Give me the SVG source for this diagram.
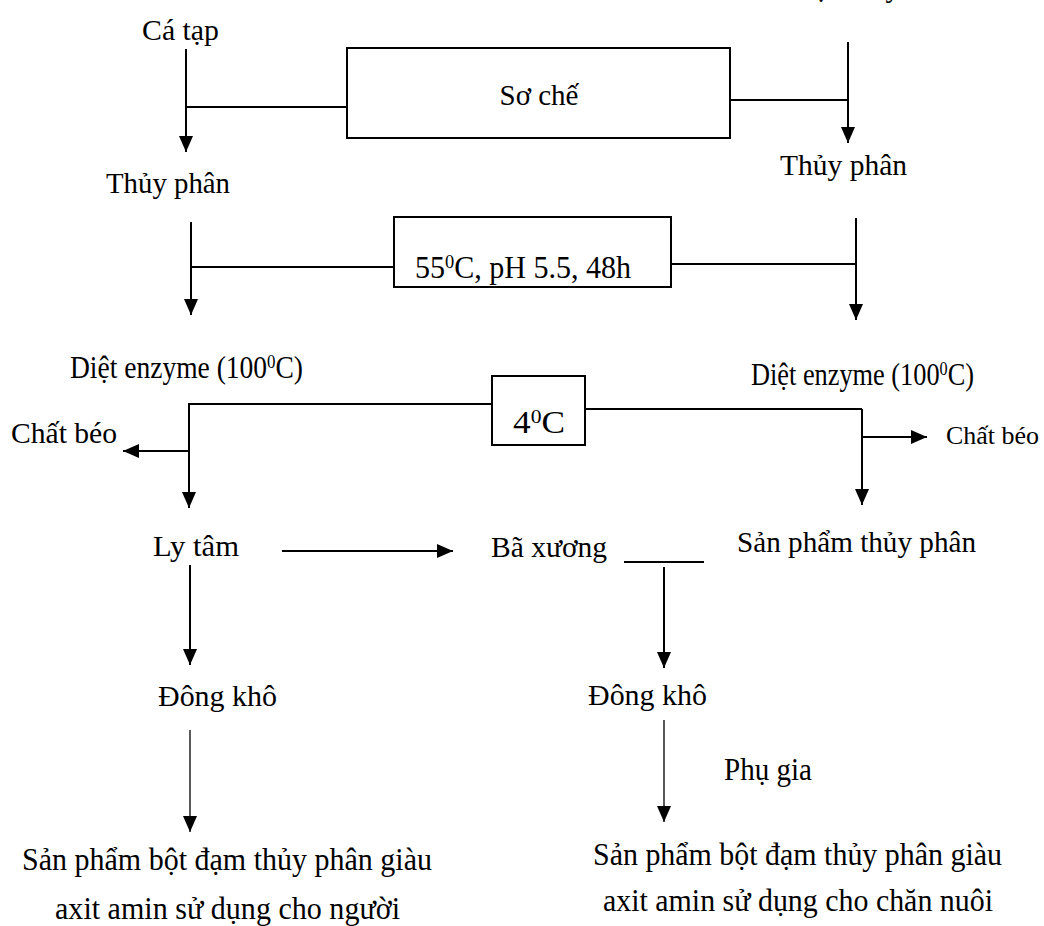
<svg xmlns="http://www.w3.org/2000/svg" width="1044" height="926" viewBox="0 0 1044 926" font-family="'Liberation Serif', 'Times New Roman', 'DejaVu Serif', serif">
<style>
text{font-family:'Liberation Serif','Times New Roman','DejaVu Serif',serif;font-size:29px;fill:#000}
.lo{font-size:31px}
.sm{font-size:25px}
.sup{font-size:19px}
.box{fill:#fff;stroke:#000;stroke-width:2}
.ln{fill:none;stroke:#000;stroke-width:2}
.thin{fill:none;stroke:#000;stroke-width:1.3}
</style>
<defs>
<marker id="ah" markerUnits="userSpaceOnUse" markerWidth="16" markerHeight="14" refX="16" refY="7" orient="auto" viewBox="0 0 16 14">
<path d="M0,0 L16,7 L0,14 z" fill="#000"/>
</marker>
</defs>
<g id="connectors">
<path class="ln" d="M186,49 V152" marker-end="url(#ah)"/>
<path class="ln" d="M186,107 H347"/>
<path class="ln" d="M848,42 V143" marker-end="url(#ah)"/>
<path class="ln" d="M730,100 H848"/>
<path class="ln" d="M191,222 V315" marker-end="url(#ah)"/>
<path class="ln" d="M191,267 H394"/>
<path class="ln" d="M856,218 V320" marker-end="url(#ah)"/>
<path class="ln" d="M671,264 H856"/>
<path class="ln" d="M188,404 H492"/>
<path class="ln" d="M189,404 V508" marker-end="url(#ah)"/>
<path class="ln" d="M189,451 H123" marker-end="url(#ah)"/>
<path class="ln" d="M585,409 H862"/>
<path class="ln" d="M862,409 V505" marker-end="url(#ah)"/>
<path class="ln" d="M862,437 H927" marker-end="url(#ah)"/>
<path class="ln" d="M282,551 H453" marker-end="url(#ah)"/>
<path class="ln" d="M624,562 H704"/>
<path class="ln" d="M664,567 V668" marker-end="url(#ah)"/>
<path class="ln" d="M190,565 V665" marker-end="url(#ah)"/>
<path class="thin" d="M190,730 V832" marker-end="url(#ah)"/>
<path class="thin" d="M664,720 V822" marker-end="url(#ah)"/>
</g>
<g id="n-top-right"><text x="747" y="-3" textLength="199" lengthAdjust="spacingAndGlyphs">Phế liệu thủy sản</text></g>
<g id="n-ca-tap"><text x="142" y="40" textLength="77" lengthAdjust="spacingAndGlyphs">Cá tạp</text></g>
<g id="n-so-che"><rect class="box" x="347" y="48" width="383" height="90"/><text x="539" y="105" text-anchor="middle" font-size="30">Sơ chế</text></g>
<g id="n-thuy-phan-l"><text x="106" y="193" textLength="124" lengthAdjust="spacingAndGlyphs">Thủy phân</text></g>
<g id="n-thuy-phan-r"><text x="780" y="175" textLength="127" lengthAdjust="spacingAndGlyphs">Thủy phân</text></g>
<g id="n-cond1"><rect class="box" x="394" y="217" width="277" height="70"/><text class="lo" x="415" y="278" textLength="216" lengthAdjust="spacingAndGlyphs">55<tspan class="sup" baseline-shift="55%">0</tspan>C, pH 5.5, 48h</text></g>
<g id="n-diet-l"><text class="lo" x="70" y="378" textLength="233" lengthAdjust="spacingAndGlyphs">Diệt enzyme (100<tspan class="sup" baseline-shift="55%">0</tspan>C)</text></g>
<g id="n-diet-r"><text class="lo" x="751" y="385" textLength="223" lengthAdjust="spacingAndGlyphs">Diệt enzyme (100<tspan class="sup" baseline-shift="55%">0</tspan>C)</text></g>
<g id="n-cond2"><rect class="box" x="492" y="376" width="93" height="69"/><text class="lo" x="513" y="433" textLength="52" lengthAdjust="spacingAndGlyphs">4<tspan class="sup" baseline-shift="55%">0</tspan>C</text></g>
<g id="n-chat-beo-l"><text x="11" y="443" textLength="106" lengthAdjust="spacingAndGlyphs">Chất béo</text></g>
<g id="n-chat-beo-r"><text class="sm" x="946" y="444" textLength="93" lengthAdjust="spacingAndGlyphs">Chất béo</text></g>
<g id="n-ly-tam"><text x="153" y="556" textLength="86" lengthAdjust="spacingAndGlyphs">Ly tâm</text></g>
<g id="n-ba-xuong"><text x="491" y="557" textLength="116" lengthAdjust="spacingAndGlyphs">Bã xương</text></g>
<g id="n-sp-thuy-phan"><text x="737" y="552" textLength="239" lengthAdjust="spacingAndGlyphs">Sản phẩm thủy phân</text></g>
<g id="n-dong-kho-l"><text x="158" y="706" textLength="119" lengthAdjust="spacingAndGlyphs">Đông khô</text></g>
<g id="n-dong-kho-m"><text x="588" y="705" textLength="119" lengthAdjust="spacingAndGlyphs">Đông khô</text></g>
<g id="n-phu-gia"><text class="lo" x="724" y="780" textLength="88" lengthAdjust="spacingAndGlyphs">Phụ gia</text></g>
<g id="n-product-l"><text class="lo" x="22" y="870" textLength="410" lengthAdjust="spacingAndGlyphs">Sản phẩm bột đạm thủy phân giàu</text><text class="lo" x="55" y="919" textLength="345" lengthAdjust="spacingAndGlyphs">axit amin sử dụng cho người</text></g>
<g id="n-product-r"><text class="lo" x="593" y="865" textLength="409" lengthAdjust="spacingAndGlyphs">Sản phẩm bột đạm thủy phân giàu</text><text class="lo" x="603" y="911" textLength="390" lengthAdjust="spacingAndGlyphs">axit amin sử dụng cho chăn nuôi</text></g>
</svg>
